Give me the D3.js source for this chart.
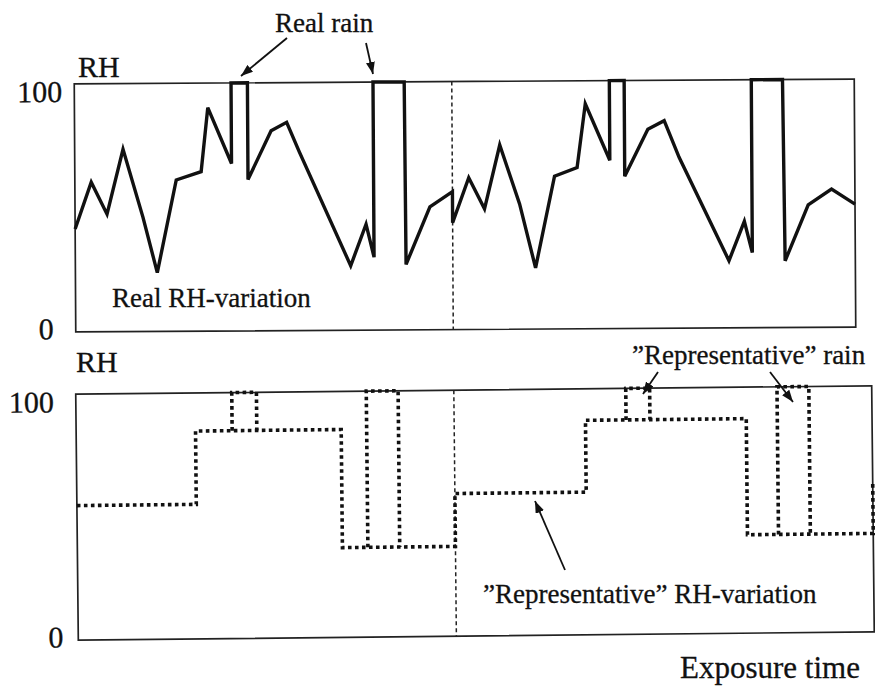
<!DOCTYPE html>
<html>
<head>
<meta charset="utf-8">
<script src="https://cdn.jsdelivr.net/npm/d3@7"></script>
<style>
  html, body { margin: 0; padding: 0; background: #fff; }
  svg { display: block; }
  svg text { font-family: "Liberation Serif"; fill: #111; }
</style>
</head>
<body>
<svg id="chart" width="875" height="697"></svg>
<script>
// Measured RH record over two exposure periods (time in % of total exposure)
const realTime = [0, 2.1, 4.1, 6.2, 8.7, 10.5, 13.0, 16.2, 17.1, 20.1, 20.1, 22.2, 22.2, 25.2, 27.2, 28.8,
  35.3, 37.3, 38.3, 38.3, 42.3, 42.4, 45.5, 48.4, 48.4, 50.5, 52.5, 54.5, 57.0, 59.0, 61.5, 64.4, 65.5,
  68.6, 68.6, 70.5, 70.5, 73.5, 75.6, 77.5, 83.8, 85.8, 86.8, 86.8, 90.8, 91.0, 94.0, 97.0, 100];
const realRH = [41.5, 60.3, 47.4, 73.5, 46.1, 23.7, 61, 64.3, 90.1, 67.5, 100, 100, 61, 80.6, 84, 72,
  26, 42.7, 29.4, 100, 100, 26.4, 49.5, 55.6, 43.1, 61.2, 48.6, 74.3, 50.5, 24.7, 61.6, 65, 90.7,
  67.9, 100, 100, 61.4, 80.3, 83.7, 68.8, 27.1, 42.9, 30.3, 100, 100, 26.9, 49.4, 55.7, 49.6];

// Representative RH: step levels starting at each time
const repTime = [0, 15.0, 33.3, 47.5, 64.0, 84.2, 100];
const repRH = [54.7, 84.5, 36.5, 58, 87.2, 40, 61];

// Representative rain events (start / end times)
const repRainStart = [19.6, 36.5, 69.1, 88.1];
const repRainEnd = [22.7, 40.5, 72.1, 92.1];

// Boundary between the two periods
const realPeriodBoundary = [48.4];
const repPeriodBoundary = [47.5];

const rhTicks = [0, 100];
const rhDomain = [0, 100];
const timeDomain = [0, 100];

const FONT = '"Liberation Serif"';
const svg = d3.select("#chart");

// Arrowhead
svg.append("defs").append("marker")
  .attr("id", "head")
  .attr("markerUnits", "userSpaceOnUse")
  .attr("markerWidth", 12).attr("markerHeight", 9)
  .attr("refX", 12).attr("refY", 4.5)
  .attr("orient", "auto")
  .append("path").attr("d", "M0,0 L12,4.5 L0,9 Z").attr("fill", "#111");

function panel(cfg) {
  const cx = (cfg.x0 + cfg.x1) / 2, cy = (cfg.y0 + cfg.y1) / 2;
  const g = svg.append("g").attr("transform", `rotate(${cfg.angle},${cx},${cy})`);
  const x = d3.scaleLinear().domain(timeDomain).range([cfg.x0, cfg.x1]);
  const y = d3.scaleLinear().domain(rhDomain).range([cfg.y1, cfg.y0]);

  g.append("rect")
    .attr("x", cfg.x0).attr("y", cfg.y0)
    .attr("width", cfg.x1 - cfg.x0).attr("height", cfg.y1 - cfg.y0)
    .attr("fill", "none").attr("stroke", "#222").attr("stroke-width", 1.7);

  const ax = g.append("g")
    .attr("transform", `translate(${cfg.x0},0)`)
    .call(d3.axisLeft(y).tickValues(rhTicks).tickSize(0).tickFormat(d3.format("d")));
  ax.attr("font-family", null).attr("font-size", 30);
  ax.select(".domain").remove();
  ax.selectAll("text")
    .style("font-family", FONT)
    .attr("font-size", 30)
    .attr("fill", "#111")
    .attr("stroke", "#111").attr("stroke-width", 0.3)
    .attr("x", d => cfg.labelX[d])
    .attr("dy", d => (d === 100 ? "0.58em" : "0.22em"));

  g.selectAll("line.period").data(cfg.boundary).join("line")
    .attr("class", "period")
    .attr("x1", d => x(d)).attr("x2", d => x(d))
    .attr("y1", y(rhDomain[1])).attr("y2", y(rhDomain[0]))
    .attr("stroke", "#222").attr("stroke-width", 1.5)
    .attr("stroke-dasharray", "4,3");

  return { g, x, y };
}

// Upper panel: real RH-variation
const upper = panel({ x0: 75, x1: 855, y0: 81.5, y1: 329.5, angle: -0.35,
  boundary: realPeriodBoundary, labelX: { 0: -22, 100: -12 } });

const realLine = d3.line()
  .x((d, i) => upper.x(realTime[i]))
  .y(d => upper.y(d));
upper.g.append("path")
  .attr("d", realLine(realRH))
  .attr("fill", "none").attr("stroke", "#111")
  .attr("stroke-width", 3.4).attr("stroke-linejoin", "miter");

// Lower panel: representative RH-variation
const lower = panel({ x0: 77, x1: 873, y0: 390, y1: 636, angle: -0.6,
  boundary: repPeriodBoundary, labelX: { 0: -15, 100: -22 } });

const dotted = { stroke: "#111", "stroke-width": 3.6, "stroke-dasharray": "3.6,3.4", fill: "none" };
function applyStyle(sel) { Object.entries(dotted).forEach(([k, v]) => sel.attr(k, v)); return sel; }

const repLine = d3.line()
  .x((d, i) => lower.x(repTime[i]))
  .y(d => lower.y(d))
  .curve(d3.curveStepAfter);
applyStyle(lower.g.append("path").attr("d", repLine(repRH)));

function levelAt(t) {
  const i = d3.bisectRight(repTime, t) - 1;
  return repRH[Math.max(0, i)];
}
const rainLine = d3.line().x(d => lower.x(d[0])).y(d => lower.y(d[1]));
repRainStart.forEach((s, i) => {
  const e = repRainEnd[i], base = levelAt(s);
  applyStyle(lower.g.append("path")
    .attr("d", rainLine([[s, base], [s, 100], [e, 100], [e, base]])));
});

// Titles and annotations
const label = (txt, x, y, size) => svg.append("text")
  .attr("x", x).attr("y", y).attr("font-size", size)
  .attr("stroke", "#111").attr("stroke-width", 0.3)
  .style("font-family", FONT).text(txt);

label("RH", 78, 77, 30);
label("RH", 76, 372, 30);
label("Real rain", 275, 32, 27);
label("Real RH-variation", 112, 307, 27);
label("\u201DRepresentative\u201D rain", 632, 364, 27);
label("\u201DRepresentative\u201D RH-variation", 483, 603, 27);
label("Exposure time", 680, 678, 31);

const arrows = [
  [287, 38, 241, 76],
  [366, 43, 373, 74],
  [658, 372, 643, 394],
  [770, 372, 793, 402],
  [565, 570, 535, 501]
];
svg.selectAll("line.arrow").data(arrows).join("line")
  .attr("class", "arrow")
  .attr("x1", d => d[0]).attr("y1", d => d[1])
  .attr("x2", d => d[2]).attr("y2", d => d[3])
  .attr("stroke", "#111").attr("stroke-width", 1.8)
  .attr("marker-end", "url(#head)");
</script>
</body>
</html>
